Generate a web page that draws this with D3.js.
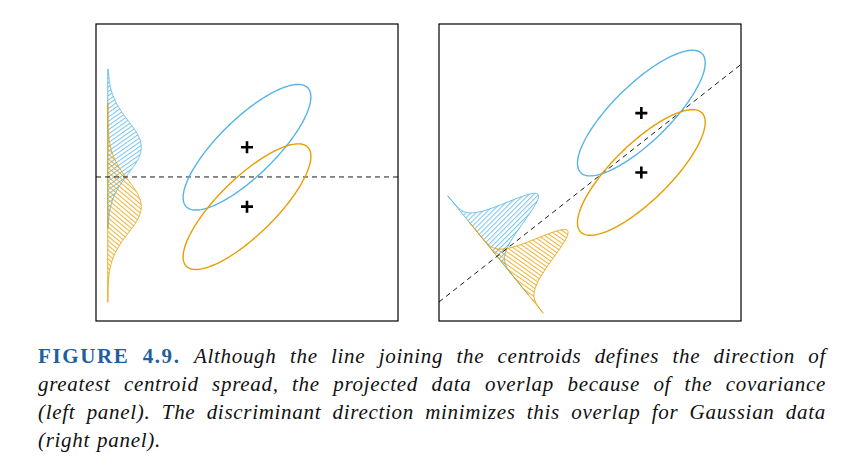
<!DOCTYPE html>
<html>
<head>
<meta charset="utf-8">
<script src="https://cdn.jsdelivr.net/npm/d3@7"></script>
<style>
  body { margin: 0; background: #fff; }
  svg { display: block; }
</style>
</head>
<body>
<svg id="fig" width="842" height="470"></svg>
<script>
// class info
var classNames = ['blue', 'orange']
var classColors = ['#56B4E9', '#E69F00']

// centroids, data units, per panel
var leftMeanX = [5.0, 5.0]
var leftMeanY = [5.85, 3.85]
var rightMeanX = [6.7, 6.7]
var rightMeanY = [7.0, 5.0]

// shared covariance  s^2 [[1,rho],[rho,1]]
var classSd = 0.9
var classRho = 0.8
var contourRadius = 2.35
var densityArea = 2.5

// projection direction (u) for each panel, and where the baseline crosses the boundary
var projDir = [[0, 1], [-0.8, 1]]
var baselineShift = [-4.61, -6.12]

// extent of each drawn density, in projected units relative to class mean [blue, orange]
var leftDensityRange = [[-2.73, 2.63], [-3.22, 3.51]]
var rightDensityRange = [[-2.43, 1.83], [-1.67, 2.25]]

// hatch angles (deg) for pattern rotation [blue, orange]
var leftHatch = [55, -50]
var rightHatch = [45, -55]

var captionLines = [
  [['FIGURE', 1], ['4.9.', 1], 'Although', 'the', 'line', 'joining', 'the', 'centroids', 'defines', 'the', 'direction', 'of'],
  'greatest centroid spread, the projected data overlap because of the covariance'.split(' '),
  '(left panel). The discriminant direction minimizes this overlap for Gaussian data'.split(' '),
  '(right panel).'.split(' ')
]

var svg = d3.select('#fig')
svg.append('rect').attr('width', 842).attr('height', 470).attr('fill', '#fff')
var defs = svg.append('defs')

function hatch(id, color, angle) {
  var p = defs.append('pattern')
    .attr('id', id)
    .attr('patternUnits', 'userSpaceOnUse')
    .attr('width', 3.5).attr('height', 10)
    .attr('patternTransform', 'rotate(' + angle + ')')
  p.append('line')
    .attr('x1', 0.5).attr('y1', 0).attr('x2', 0.5).attr('y2', 10)
    .attr('stroke', color).attr('stroke-width', 1).attr('stroke-opacity', 0.8)
}

function panel(idx, x0, meanX, meanY, ranges, hatchAngles) {
  var x = d3.scaleLinear().domain([0, 10]).range([x0, x0 + 302])
  var y = d3.scaleLinear().domain([0, 10]).range([321, 24])
  var g = svg.append('g')
  var clipId = 'clip' + idx
  defs.append('clipPath').attr('id', clipId)
    .append('rect').attr('x', x(0)).attr('y', y(10)).attr('width', x(10) - x(0)).attr('height', y(0) - y(10))

  var line = d3.line().x(function(d){ return x(d[0]) }).y(function(d){ return y(d[1]) })

  // projection geometry
  var d0 = projDir[idx]
  var len = Math.hypot(d0[0], d0[1])
  var u = [d0[0] / len, d0[1] / len]
  var n = [u[1], -u[0]]
  var mid = [(meanX[0] + meanX[1]) / 2, (meanY[0] + meanY[1]) / 2]
  var origin = [mid[0] + baselineShift[idx] * n[0], mid[1] + baselineShift[idx] * n[1]]
  var s2 = classSd * classSd
  var projSd = Math.sqrt(s2 * (u[0] * u[0] + 2 * classRho * u[0] * u[1] + u[1] * u[1]))

  // densities
  classNames.forEach(function(c, k) {
    var pid = 'h' + idx + c
    hatch(pid, classColors[k], hatchAngles[k])
    var m = (meanX[k] - mid[0]) * u[0] + (meanY[k] - mid[1]) * u[1]
    var ts = d3.range(ranges[k][0], ranges[k][1] + 1e-9, (ranges[k][1] - ranges[k][0]) / 200)
    var pts = ts.map(function(t) {
      var h = densityArea * Math.exp(-0.5 * (t / projSd) * (t / projSd)) / (Math.sqrt(2 * Math.PI) * projSd)
      return [origin[0] + (m + t) * u[0] + h * n[0], origin[1] + (m + t) * u[1] + h * n[1]]
    })
    var a = ranges[k][0], b = ranges[k][1]
    pts.push([origin[0] + (m + b) * u[0], origin[1] + (m + b) * u[1]])
    pts.push([origin[0] + (m + a) * u[0], origin[1] + (m + a) * u[1]])
    g.append('path')
      .attr('d', line(pts) + 'Z')
      .attr('fill', 'url(#' + pid + ')')
      .attr('stroke', classColors[k])
      .attr('stroke-opacity', 0.85)
      .attr('stroke-width', 1)
  })

  // boundary line through midpoint, perpendicular to u
  var tA = (0 - mid[0]) / (n[0] || 1e-9), tB = (10 - mid[0]) / (n[0] || 1e-9)
  if (n[0] === 0) { tA = -20; tB = 20 }
  g.append('path')
    .attr('clip-path', 'url(#' + clipId + ')')
    .attr('d', line([[mid[0] + tA * n[0], mid[1] + tA * n[1]], [mid[0] + tB * n[0], mid[1] + tB * n[1]]]))
    .attr('stroke', '#000').attr('stroke-width', 0.9)
    .attr('stroke-dasharray', '5,4').attr('fill', 'none')

  // ellipses
  var th = d3.range(0, 2 * Math.PI, Math.PI / 90)
  classNames.forEach(function(c, k) {
    var r = contourRadius * classSd
    var pts = th.map(function(a) {
      return [meanX[k] + r * Math.cos(a),
              meanY[k] + r * (classRho * Math.cos(a) + Math.sqrt(1 - classRho * classRho) * Math.sin(a))]
    })
    g.append('path')
      .attr('d', d3.line().x(function(d){ return x(d[0]) }).y(function(d){ return y(d[1]) }).curve(d3.curveLinearClosed)(pts))
      .attr('fill', 'none')
      .attr('stroke', classColors[k])
      .attr('stroke-width', 1.4)
  })

  // centroids
  classNames.forEach(function(c, k) {
    var cx = x(meanX[k]), cy = y(meanY[k])
    g.append('path')
      .attr('d', 'M' + (cx - 6) + ',' + cy + 'H' + (cx + 6) + 'M' + cx + ',' + (cy - 6) + 'V' + (cy + 6))
      .attr('stroke', '#000').attr('stroke-width', 2.6)
  })

  g.append('rect')
    .attr('x', x(0)).attr('y', y(10))
    .attr('width', x(10) - x(0)).attr('height', y(0) - y(10))
    .attr('fill', 'none').attr('stroke', '#000').attr('stroke-width', 1.2)
}

panel(0, 96, leftMeanX, leftMeanY, leftDensityRange, leftHatch)
panel(1, 439, rightMeanX, rightMeanY, rightDensityRange, rightHatch)

// caption, justified
var capLeft = 38, capRight = 826, capTop = 363, capStep = 28
var cap = svg.append('g')
  .attr('font-family', '"Liberation Serif", "DejaVu Serif", serif')
  .attr('font-size', 21)
captionLines.forEach(function(words, i) {
  var yy = capTop + i * capStep
  var nodes = words.map(function(w) {
    var bold = Array.isArray(w)
    var t = cap.append('text')
      .attr('y', yy)
      .text(bold ? w[0] : w)
    if (bold) t.attr('font-weight', 'bold').attr('fill', '#1F5F9E').attr('letter-spacing', 1.6)
    else t.attr('font-style', 'italic').attr('fill', '#111').attr('letter-spacing', 0.7)
    return t
  })
  var widths = nodes.map(function(t){ return t.node().getComputedTextLength() })
  var total = d3.sum(widths)
  var last = i === captionLines.length - 1
  var gap = last ? 7 : (capRight - capLeft - total) / (nodes.length - 1)
  var xx = capLeft
  nodes.forEach(function(t, j) {
    t.attr('x', xx)
    xx += widths[j] + gap
  })
})
</script>
</body>
</html>
